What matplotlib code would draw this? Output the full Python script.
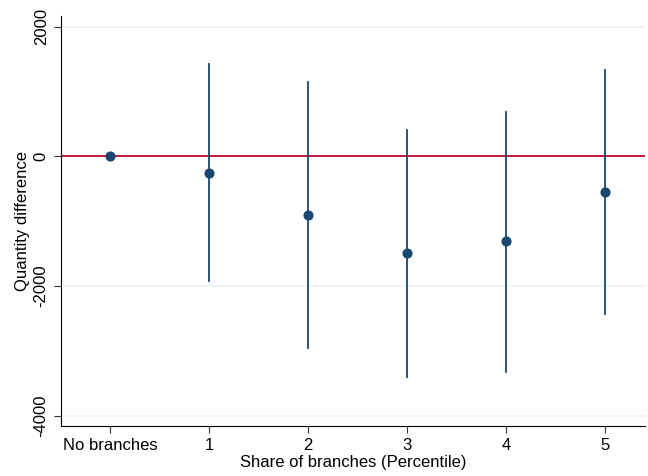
import matplotlib.pyplot as plt

# coefficient estimates with 95% confidence bounds
categories = ["No branches", "1", "2", "3", "4", "5"]
estimates = [0, -250, -905, -1490, -1305, -549]
ci_low = [0, -1923, -2962, -3400, -3327, -2432]
ci_high = [0, 1426, 1143, 407, 685, 1333]

plt.rcParams['font.family'] = ['Liberation Sans', 'DejaVu Sans']

navy = "#1a476f"
fig = plt.figure(figsize=(6.48, 4.76), dpi=100)
ax = fig.add_axes([0.0934, 0.1044, 0.902, 0.862])

xs = list(range(len(categories)))
for x, lo, hi in zip(xs[1:], ci_low[1:], ci_high[1:]):
    ax.plot([x, x], [lo, hi], color=navy, lw=1.3, zorder=3)
ax.axhline(0, color="#c10534", lw=1.3, zorder=2)
ax.plot(xs, estimates, "o", color=navy, ms=6.3, zorder=4)

ax.set_xlim(-0.5, 5.4)
ax.set_ylim(-4165, 2167)
ax.set_xticks(xs)
ax.set_xticklabels(categories)
ax.set_yticks([-4000, -2000, 0, 2000])
ax.set_yticklabels(["-4000", "-2000", "0", "2000"], rotation=90, va="center")
ax.grid(axis="y", color="#eaf2f3", lw=1.2, zorder=0)
ax.set_axisbelow(True)
ax.tick_params(labelsize=12, length=5, color="#333333")
for s in ["top", "right"]:
    ax.spines[s].set_visible(False)
ax.set_xlabel("Share of branches (Percentile)", fontsize=12, labelpad=1)
ax.set_ylabel("Quantity difference", fontsize=12, labelpad=3)

fig.savefig("out.png", dpi=100)
